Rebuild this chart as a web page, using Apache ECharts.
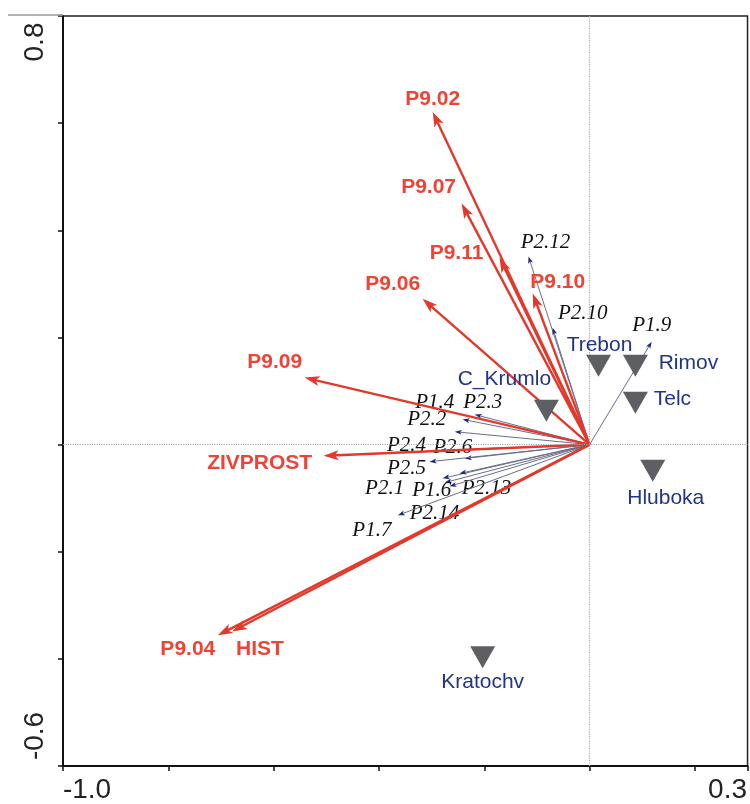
<!DOCTYPE html>
<html><head><meta charset="utf-8">
<script src="https://cdn.jsdelivr.net/npm/echarts@6/dist/echarts.min.js"></script>
<style>html,body{margin:0;padding:0;background:#fff}#c{width:750px;height:804px}</style>
</head><body><div id="c"></div>
<script>
// ---- data ----
const envNames = ['P9.02','P9.07','P9.11','P9.10','P9.06','P9.09','ZIVPROST','P9.04','HIST'];
const envX = [-0.298,-0.243,-0.171,-0.108,-0.317,-0.541,-0.505,-0.706,-0.679];
const envY = [0.621,0.450,0.349,0.282,0.272,0.125,-0.021,-0.356,-0.349];

const speciesNames = ['P2.12','P2.10','P1.9','P1.4','P2.3','P2.2','P2.4','P2.6','P2.5','P2.1','P1.6','P2.13','P2.14','P1.7'];
const speciesX = [-0.116,-0.070,0.118,-0.241,-0.218,-0.256,-0.285,-0.237,-0.304,-0.279,-0.275,-0.247,-0.266,-0.364];
const speciesY = [0.351,0.218,0.192,0.047,0.056,0.024,-0.011,-0.026,-0.032,-0.063,-0.071,-0.054,-0.078,-0.132];

const siteNames = ['Trebon','Rimov','Telc','Hluboka','C_Krumlo','Kratochv'];
const siteX = [0.017,0.087,0.087,0.120,-0.082,-0.203];
const siteY = [0.147,0.147,0.078,-0.049,0.063,-0.397];

const xTickLabels = ['-1.0','0.3'];
const yTickLabels = ['-0.6','0.8'];

// ---- label placement (pixel offsets from the mark) ----
const labelOffsets = {
  'P9.02':[0,-13],'P9.07':[-33,-16],'P9.11':[-43,-4],'P9.10':[25,-11],'P9.06':[-30,-15],
  'P9.09':[-30,-15],'ZIVPROST':[-64,7],'P9.04':[-30,14],'HIST':[28,18],
  'P2.12':[17,-14],'P2.10':[30,-14],'P1.9':[0,-16],'P1.4':[-28,-17],'P2.3':[8,-12],
  'P2.2':[-28,-12],'P2.4':[-33,-5],'P2.6':[-12,-11],'P2.5':[-23,7],'P2.1':[-58,10],
  'P1.6':[-13,8],'P2.13':[27,15],'P2.14':[-15,27],'P1.7':[-26,15],
  'Trebon':[1,-21],'Rimov':[53,-3],'Telc':[37,-4],'Hluboka':[13,27],'C_Krumlo':[-42,-32],'Kratochv':[0,25]
};

const chart = echarts.init(document.getElementById('c'), null, {renderer:'canvas'});

function arrowRenderer(names, style) {
  return function(params, api) {
    const x = api.value(0), y = api.value(1);
    const name = names[params.dataIndex];
    const o = api.coord([0,0]);
    const p = api.coord([x,y]);
    const dx = p[0]-o[0], dy = p[1]-o[1];
    const len = Math.sqrt(dx*dx+dy*dy) || 1;
    const ux = dx/len, uy = dy/len, nx = -uy, ny = ux;
    const L = style.headLen, W = style.headWidth/2;
    const bx = p[0]-ux*L, by = p[1]-uy*L;
    const off = labelOffsets[name] || [0,0];
    return {
      type:'group',
      children:[
        {type:'line', shape:{x1:o[0],y1:o[1],x2:p[0]-ux*L*0.5,y2:p[1]-uy*L*0.5},
          style:{stroke:style.lineColor, lineWidth:style.lineWidth}},
        {type:'polygon', shape:{points:[[p[0],p[1]],[bx+nx*W,by+ny*W],[bx+ux*L*0.25,by+uy*L*0.25],[bx-nx*W,by-ny*W]]},
          style:{fill:style.headColor}},
        {type:'text', x:p[0]+off[0], y:p[1]+off[1],
          style:{text:name, fill:style.textColor, font:style.font, align:'center', verticalAlign:'middle'}}
      ]
    };
  };
}

const speciesData = speciesX.map((v,i)=>[v, speciesY[i]]);
const envData = envX.map((v,i)=>[v, envY[i]]);
const siteData = siteX.map((v,i)=>({
  value:[v, siteY[i]],
  name: siteNames[i],
  label:{offset: labelOffsets[siteNames[i]]}
}));

const axisFont = {fontFamily:'Liberation Sans, Arial, sans-serif', fontSize:28, color:'#222'};

chart.setOption({
  animation:false,
  backgroundColor:'#ffffff',
  grid:{left:63, right:2, top:16, bottom:37, show:true, borderColor:'#222', borderWidth:1.5},
  xAxis:{
    type:'value', min:-1.0, max:0.3, interval:0.2,
    axisLine:{show:true, onZero:false, lineStyle:{color:'#111', width:2}},
    axisTick:{show:true, length:5, lineStyle:{color:'#111', width:1.5}},
    splitLine:{show:false},
    axisLabel:{
      margin:10,
      formatter:function(v){
        if (Math.abs(v+1.0)<1e-9) return '{l|'+xTickLabels[0]+'}';
        if (Math.abs(v-0.3)<1e-9) return '{r|'+xTickLabels[1]+'}';
        return '';
      },
      rich:{
        l:Object.assign({padding:[0,0,0,48]}, axisFont),
        r:Object.assign({padding:[0,40,0,0]}, axisFont)
      }
    }
  },
  yAxis:{
    type:'value', min:-0.6, max:0.8, interval:0.2,
    axisLine:{show:true, onZero:false, lineStyle:{color:'#111', width:2}},
    axisTick:{show:true, length:5, lineStyle:{color:'#111', width:1.5}},
    splitLine:{show:false},
    axisLabel:{
      rotate:90, margin:14,
      formatter:function(v){
        if (Math.abs(v+0.6)<1e-9) return '{b|'+yTickLabels[0]+'}';
        if (Math.abs(v-0.8)<1e-9) return '{t|'+yTickLabels[1]+'}';
        return '';
      },
      rich:{
        b:Object.assign({padding:[0,0,0,60]}, axisFont),
        t:Object.assign({padding:[0,52,0,0]}, axisFont)
      }
    }
  },
  graphic:[
    {type:'line', shape:{x1:8,y1:15,x2:63,y2:15}, style:{stroke:'#999', lineWidth:1.5}, z:10}
  ],
  series:[
    {
      type:'line', data:[], z:1, silent:true,
      markLine:{
        silent:true, symbol:'none', label:{show:false},
        lineStyle:{type:'dotted', color:'#a8a8a8', width:1.2},
        data:[{xAxis:0},{yAxis:0}]
      }
    },
    {
      type:'custom', z:3, data:speciesData,
      renderItem: arrowRenderer(speciesNames, {
        lineColor:'#6a6f88', lineWidth:1, headColor:'#1c2a7a', headLen:7, headWidth:5,
        textColor:'#111', font:'italic 21px "Liberation Serif", "Times New Roman", serif'
      })
    },
    {
      type:'custom', z:4, data:envData,
      renderItem: arrowRenderer(envNames, {
        lineColor:'#e2392c', lineWidth:2.4, headColor:'#e2392c', headLen:15, headWidth:10,
        textColor:'#ee4436', font:'bold 21px "Liberation Sans", Arial, sans-serif'
      })
    },
    {
      type:'scatter', z:5, data:siteData,
      symbol:'triangle', symbolRotate:180, symbolSize:[25,22],
      itemStyle:{color:'#5e5f63', opacity:1},
      label:{
        show:true, position:'inside', formatter:'{b}', opacity:1,
        color:'#22338a', fontSize:21, fontFamily:'Liberation Sans, Arial, sans-serif'
      }
    }
  ]
});
</script>
</body></html>
